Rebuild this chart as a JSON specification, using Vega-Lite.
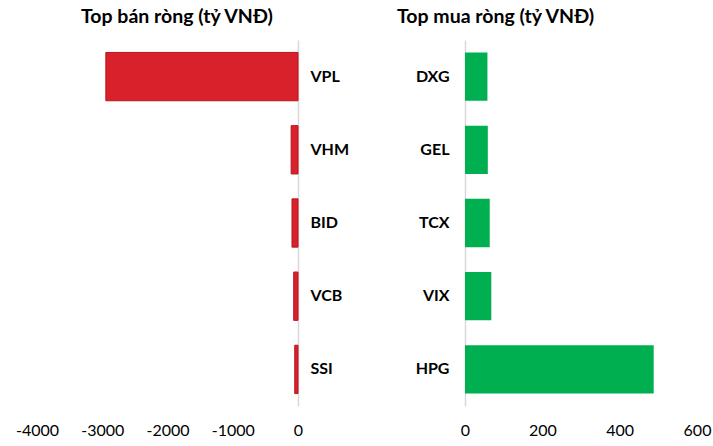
{
  "$schema": "https://vega.github.io/schema/vega-lite/v6.json",
  "background": "white",
  "padding": {"left": 15, "top": 6, "right": 2, "bottom": 2},
  "config": {
    "font": "Lato",
    "locale": {"number": {"decimal": ".", "thousands": "", "grouping": [3], "currency": ["", ""], "minus": "-"}},
    "view": {"stroke": null},
    "title": {"fontSize": 19.5, "fontWeight": "bold", "color": "#000000", "font": "Lato"},
    "axis": {"grid": false, "ticks": false, "labelFont": "Lato", "labelColor": "#000000"}
  },
  "datasets": {
    "ban": [
      {"ticker": "VPL", "value": -2945},
      {"ticker": "VHM", "value": -105},
      {"ticker": "BID", "value": -92},
      {"ticker": "VCB", "value": -66},
      {"ticker": "SSI", "value": -50}
    ],
    "mua": [
      {"ticker": "DXG", "value": 58},
      {"ticker": "GEL", "value": 59},
      {"ticker": "TCX", "value": 64},
      {"ticker": "VIX", "value": 68},
      {"ticker": "HPG", "value": 488}
    ]
  },
  "spacing": 48,
  "hconcat": [
    {
      "data": {"name": "ban"},
      "width": 261,
      "height": 366,
      "title": {"text": "Top bán ròng (tỷ VNĐ)", "anchor": "start", "frame": "group", "dx": 44, "offset": 13},
      "mark": {"type": "bar", "color": "#d9212c", "stroke": "#b8151f", "strokeWidth": 1},
      "encoding": {
        "y": {
          "field": "ticker", "type": "nominal", "sort": ["VPL", "VHM", "BID", "VCB", "SSI"],
          "scale": {"paddingInner": 0.34, "paddingOuter": 0.17},
          "axis": {"orient": "right", "title": null, "domainColor": "#d9d9d9", "domainWidth": 1.5, "labelFontSize": 16, "labelFontWeight": "bold", "labelPadding": 12, "labelAlign": "left"}
        },
        "x": {
          "field": "value", "type": "quantitative",
          "scale": {"domain": [-4000, 0], "nice": false},
          "axis": {"title": null, "domain": false, "values": [-4000, -3000, -2000, -1000, 0], "format": "d", "labelFontSize": 16, "labelPadding": 16, "labelFlush": false}
        }
      }
    },
    {
      "data": {"name": "mua"},
      "width": 232,
      "height": 366,
      "title": {"text": "Top mua ròng (tỷ VNĐ)", "anchor": "start", "frame": "group", "dx": -68, "offset": 13},
      "mark": {"type": "bar", "color": "#00b050"},
      "encoding": {
        "y": {
          "field": "ticker", "type": "nominal", "sort": ["DXG", "GEL", "TCX", "VIX", "HPG"],
          "scale": {"paddingInner": 0.34, "paddingOuter": 0.17},
          "axis": {"orient": "left", "title": null, "domainColor": "#d9d9d9", "domainWidth": 1.5, "labelFontSize": 16, "labelFontWeight": "bold", "labelPadding": 16}
        },
        "x": {
          "field": "value", "type": "quantitative",
          "scale": {"domain": [0, 600], "nice": false},
          "axis": {"title": null, "domain": false, "values": [0, 200, 400, 600], "format": "d", "labelFontSize": 16, "labelPadding": 16, "labelFlush": false}
        }
      }
    }
  ]
}
